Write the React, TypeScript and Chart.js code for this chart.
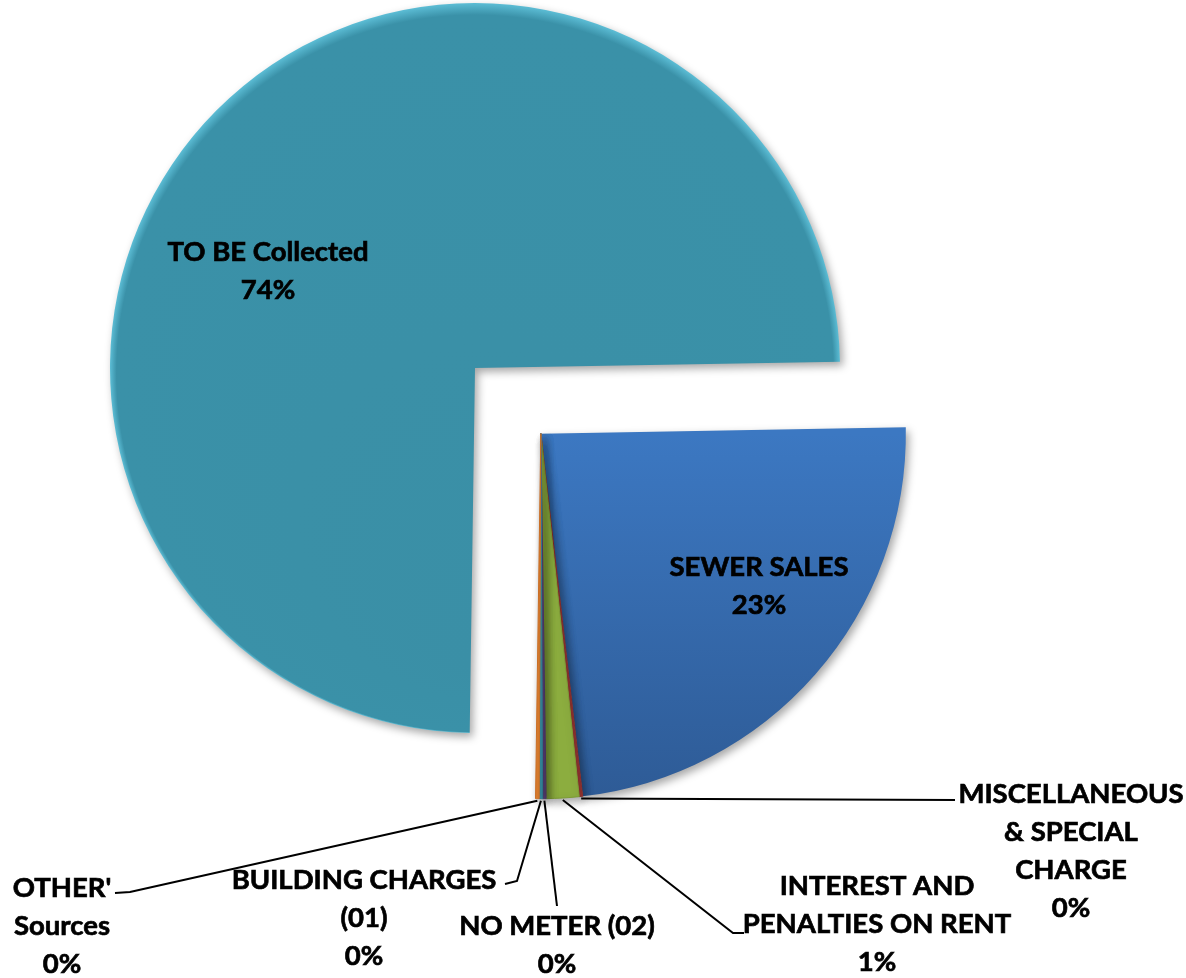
import React, { useEffect, useRef } from "react";
import { Chart, registerables } from "chart.js";

Chart.register(...registerables);

// ---- data ----
const categories: string[][] = [
  ["SEWER SALES"],
  ["MISCELLANEOUS", "& SPECIAL", "CHARGE"],
  ["INTEREST AND", "PENALTIES ON RENT"],
  ["NO METER (02)"],
  ["BUILDING CHARGES", "(01)"],
  ["OTHER'", "Sources"],
  ["TO BE Collected"],
];
const shares: number[] = [23.45, 0.15, 1.45, 0.15, 0.15, 0.16, 74.49];
const sliceColors: string[] = ["#3A72B8", "#B8413E", "#8CAD3F", "#6A4C8C", "#3FA0B8", "#E07F2E", "#3A91A8"];
const sliceBorders: string[] = ["#2F5F9A", "#A03533", "#7C9B36", "#5A3F7A", "#34879C", "#C96E25", "#347F94"];

// ---- styling / layout (not data) ----
const START_ANGLE = 89; // degrees from 12 o'clock
const RADIUS = 365;
const EXPLODE = 93;
const EXPLODED_GROUP = [0, 1, 2, 3, 4, 5];
const FONT_PX = 27.5;
const LINE_H = 38;
const FONT = `bold ${FONT_PX}px Lato, "Open Sans", sans-serif`;

type LabelLayout = { x: number; y: number; leader?: [number, number][] };
const labelLayout: LabelLayout[] = [
  { x: 759, y: 567 },
  { x: 1071, y: 794, leader: [[955, 800]] },
  { x: 877, y: 886, leader: [[733, 933], [744, 933]] },
  { x: 557, y: 926, leader: [[557, 906]] },
  { x: 364, y: 880, leader: [[517, 881], [505, 884]] },
  { x: 62, y: 888, leader: [[130, 892], [115, 893]] },
  { x: 268, y: 252 },
];

const explodePlugin = {
  id: "explodeGroup",
  afterDatasetUpdate(chart: any, args: any) {
    const arcs = chart.getDatasetMeta(args.index).data;
    if (!arcs.length) return;
    const first = arcs[EXPLODED_GROUP[0]];
    const last = arcs[EXPLODED_GROUP[EXPLODED_GROUP.length - 1]];
    const mid = (first.startAngle + last.endAngle) / 2;
    EXPLODED_GROUP.forEach((i) => {
      arcs[i].x += Math.cos(mid) * EXPLODE;
      arcs[i].y += Math.sin(mid) * EXPLODE;
    });
  },
};

const shadowPlugin = {
  id: "sliceShadow",
  beforeDatasetDraw(chart: any) {
    const ctx = chart.ctx;
    ctx.save();
    ctx.shadowColor = "rgba(0,0,0,0.35)";
    ctx.shadowBlur = 8;
    ctx.shadowOffsetX = 3;
    ctx.shadowOffsetY = 4;
  },
  afterDatasetDraw(chart: any) {
    chart.ctx.restore();
  },
};

const labelPlugin = {
  id: "pieLabels",
  afterDatasetsDraw(chart: any) {
    const ctx = chart.ctx;
    const arcs = chart.getDatasetMeta(0).data;
    const total = shares.reduce((a, b) => a + b, 0);
    ctx.save();
    arcs.forEach((arc: any, i: number) => {
      const lay = labelLayout[i];
      if (lay.leader) {
        const mid = (arc.startAngle + arc.endAngle) / 2;
        const sx = arc.x + Math.cos(mid) * (arc.outerRadius + 2);
        const sy = arc.y + Math.sin(mid) * (arc.outerRadius + 2);
        ctx.beginPath();
        ctx.moveTo(sx, sy);
        lay.leader.forEach(([px, py]) => ctx.lineTo(px, py));
        ctx.strokeStyle = "#000";
        ctx.lineWidth = 2;
        ctx.stroke();
      }
      const pct = Math.round((shares[i] / total) * 100) + "%";
      const lines = [...categories[i], pct];
      ctx.font = FONT;
      ctx.fillStyle = "#000";
      ctx.strokeStyle = "#000";
      ctx.lineWidth = 0.7;
      ctx.textAlign = "center";
      ctx.textBaseline = "middle";
      lines.forEach((ln, k) => {
        ctx.fillText(ln, lay.x, lay.y + k * LINE_H);
        ctx.strokeText(ln, lay.x, lay.y + k * LINE_H);
      });
    });
    ctx.restore();
  },
};

function sliceFill(context: any) {
  const i = context.dataIndex;
  const chart = context.chart;
  const area = chart.chartArea;
  if (!area) return sliceColors[i];
  const cx = (area.left + area.right) / 2;
  const cy = (area.top + area.bottom) / 2;
  const g = chart.ctx;
  if (i === 0) {
    const y0 = cy + EXPLODE * 0.7;
    const grad = g.createLinearGradient(0, y0, 0, y0 + RADIUS);
    grad.addColorStop(0, "#3C78C2");
    grad.addColorStop(1, "#2E5B96");
    return grad;
  }
  if (i === 6) {
    const grad = g.createRadialGradient(cx, cy + 300, 0, cx, cy, RADIUS);
    grad.addColorStop(0, "#3A8FA6");
    grad.addColorStop(0.982, "#3A91A8");
    grad.addColorStop(1, "#5CBDD5");
    return grad;
  }
  return sliceColors[i];
}

export default function App() {
  const ref = useRef<HTMLCanvasElement | null>(null);
  useEffect(() => {
    if (!ref.current) return;
    const chart = new Chart(ref.current, {
      type: "pie",
      data: {
        labels: categories,
        datasets: [
          {
            data: shares,
            backgroundColor: sliceFill as any,
            borderColor: sliceBorders,
            borderWidth: [0, 1, 1, 1, 1, 1, 0],
            radius: RADIUS,
          } as any,
        ],
      },
      options: {
        animation: false,
        responsive: true,
        maintainAspectRatio: false,
        rotation: START_ANGLE,
        layout: { padding: { left: 0, right: 236, top: 0, bottom: 242 } },
        plugins: { legend: { display: false }, tooltip: { enabled: false } },
      },
      plugins: [explodePlugin, shadowPlugin, labelPlugin],
    });
    return () => chart.destroy();
  }, []);
  return (
    <div style={{ position: "fixed", left: 0, top: 0, width: 1186, height: 978, background: "#fff" }}>
      <canvas ref={ref} />
    </div>
  );
}
